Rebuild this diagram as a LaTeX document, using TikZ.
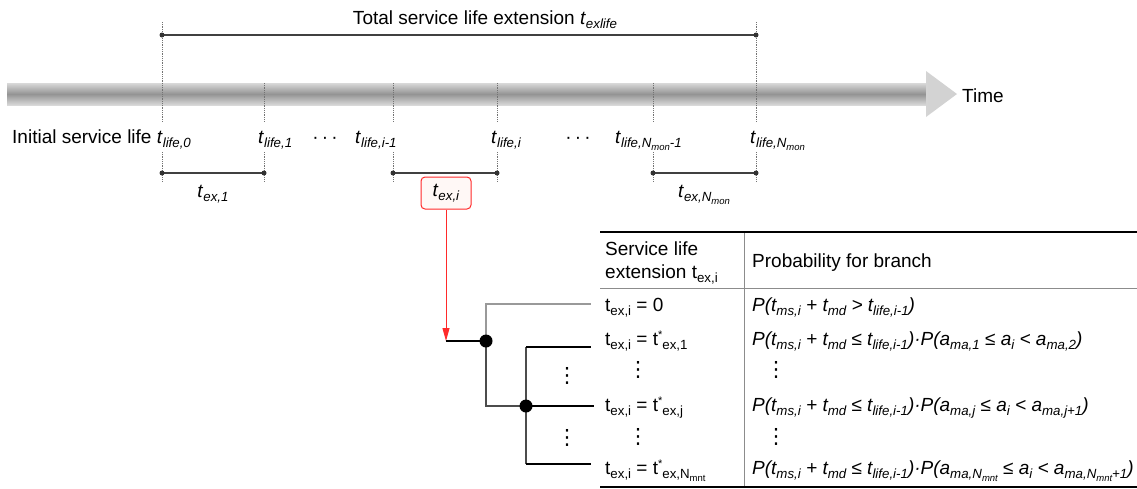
\documentclass[tikz,border=0pt]{standalone}
\usepackage{fontspec}
\setmainfont{Liberation Sans}
\newfontfamily\djv{DejaVu Sans}
\usetikzlibrary{arrows.meta}
\definecolor{redline}{HTML}{FF2A2A}
\definecolor{boxfill}{HTML}{FFF8F6}
\newcommand\fs{\fontsize{19}{23}\selectfont}
\newcommand\lo[1]{\raisebox{-4.5pt}{\fontsize{13.3}{14}\selectfont #1}}
\newcommand\llo[1]{\raisebox{-2.5pt}{\fontsize{9.5}{10}\selectfont #1}}
\newcommand\hi[1]{\raisebox{7pt}{\fontsize{11}{12}\selectfont #1}}
\newcommand\vdts{{\djv\fontsize{21}{21}\selectfont ⋮}}
\begin{document}
\begin{tikzpicture}[x=1pt,y=-1pt,font=\fs,
  lbl/.style={inner sep=0pt,anchor=base west},
  clbl/.style={inner sep=0pt,anchor=base},
  tickline/.style={densely dotted,black!55,line width=0.8pt},
  segline/.style={line width=1.3pt,black!75},
  enddot/.style={circle,fill=black!80,inner sep=0pt,minimum size=5pt},
  bnode/.style={circle,fill=black,inner sep=0pt,minimum size=13pt},
  bline/.style={line width=2.4pt,black},
  grayline/.style={line width=1.6pt,black!40},
  thinline/.style={line width=1.3pt,black!70},
  rule/.style={line width=2pt,black},
  softrule/.style={line width=1pt,black!45},
  vd/.style={inner sep=0pt}]
\useasboundingbox (0,0) rectangle (1137,488);
% time band
\shade[top color=black!15,bottom color=black!15,middle color=black!42] (7,83) rectangle (926,105);
\shade[left color=black!17,middle color=black!33,right color=black!18] (926,71) -- (957,94) -- (926,117) -- cycle;
\node[lbl] (time) at (962,102) {Time};
% title
\node[clbl] (title) at (485,24) {Total service life extension \textit{t}\lo{\textit{exlife}}};
% tick coordinates
\foreach \n/\x/\t in {a/162/22,b/264/83,c/393/83,d/497/83,e/653/83,f/756/22}{
  \coordinate (\n1) at (\x,\t);
  \coordinate (\n2) at (\x,122);
  \coordinate (\n3) at (\x,152);
  \coordinate (\n4) at (\x,181);
  \draw[tickline] (\n1) -- (\n2);
  \draw[tickline] (\n3) -- (\n4);
}
% total line
\coordinate (tl) at (162,35);
\coordinate (tr) at (756,35);
\draw[segline] (tl) -- (tr);
\node[enddot] (tld) at (tl) {};
\node[enddot] (trd) at (tr) {};
% labels
\node[lbl] (init) at (12,143) {Initial service life \textit{t}\lo{\textit{life,0}}};
\node[lbl] (l1) at (258,143) {\textit{t}\lo{\textit{life,1}}};
\node[clbl] (dots1) at (325,143) {·\,·\,·};
\node[lbl] (lim1) at (355,143) {\textit{t}\lo{\textit{life,i-1}}};
\node[lbl] (li) at (491,143) {\textit{t}\lo{\textit{life,i}}};
\node[clbl] (dots2) at (578,143) {·\,·\,·};
\node[lbl] (lNm1) at (615,143) {\textit{t}\lo{\textit{life,N}\llo{\textit{mon}}\textit{-1}}};
\node[lbl] (lN) at (750,143) {\textit{t}\lo{\textit{life,N}\llo{\textit{mon}}}};
% segments
\foreach \n/\xa/\xb in {s1/162/264,s2/393/497,s3/653/756}{
  \coordinate (\n a) at (\xa,173);
  \coordinate (\n b) at (\xb,173);
  \draw[segline] (\n a) -- (\n b);
  \node[enddot] (\n ad) at (\n a) {};
  \node[enddot] (\n bd) at (\n b) {};
}
\node[clbl] (tex1) at (213,197) {\textit{t}\lo{\textit{ex,1}}};
\node[clbl] (texN) at (704,197) {\textit{t}\lo{\textit{ex,N}\llo{\textit{mon}}}};
% red box and arrow
\node[draw=redline,fill=boxfill,rounded corners=4pt,line width=1pt,minimum width=50pt,minimum height=32pt,inner sep=0pt] (texi) at (446,193) {\raisebox{2pt}{\textit{t}\lo{\textit{ex,i}}}};
\coordinate (bstart) at (446,341);
\draw[redline,line width=1pt,-{Triangle[length=13pt,width=7pt]}] (texi.south) -- (bstart);
% branches
\coordinate (c1) at (486,341);
\coordinate (c2) at (526,406);
\coordinate (g1) at (486,304);
\coordinate (g2) at (591,304);
\coordinate (v1) at (526,347);
\coordinate (v3) at (526,464);
\coordinate (e1) at (591,347);
\coordinate (e2) at (594,406);
\coordinate (e3) at (591,464);
\draw[grayline] (c1) -- (g1) -- (g2);
\draw[thinline] (c1) |- (c2);
\draw[thinline] (v1) -- (v3);
\draw[bline] (bstart) -- (c1);
\draw[bline] (v1) -- (e1);
\draw[bline] (c2) -- (e2);
\draw[bline] (v3) -- (e3);
\node[bnode] (n1) at (c1) {};
\node[bnode] (n2) at (c2) {};
\node[vd] (bv1) at (567,376) {\vdts};
\node[vd] (bv2) at (567,438) {\vdts};
% table
\coordinate (tt1) at (600,232);
\coordinate (tt2) at (1137,232);
\coordinate (th1) at (600,288);
\coordinate (th2) at (1137,288);
\coordinate (tb1) at (600,487);
\coordinate (tb2) at (1137,487);
\coordinate (tc1) at (744,232);
\coordinate (tc2) at (744,487);
\draw[softrule] (th1) -- (th2);
\draw[softrule] (tc1) -- (tc2);
\draw[rule] (tt1) -- (tt2);
\draw[rule] (tb1) -- (tb2);
\node[lbl] (h1a) at (605,255) {Service life};
\node[lbl] (h1b) at (605,278) {extension t\lo{ex,i}};
\node[lbl] (h2) at (752,267) {Probability for branch};
\node[lbl] (r1l) at (605,311) {t\lo{ex,i} = 0};
\node[lbl] (r2l) at (605,345) {t\lo{ex,i} = t\hi{*}\lo{ex,1}};
\node[vd] (lv1) at (638,370) {\vdts};
\node[lbl] (r3l) at (605,411) {t\lo{ex,i} = t\hi{*}\lo{ex,j}};
\node[vd] (lv2) at (638,437) {\vdts};
\node[lbl] (r4l) at (605,474) {t\lo{ex,i} = t\hi{*}\lo{ex,N\llo{mnt}}};
\node[lbl] (r1r) at (752,311) {\itshape P(t\lo{ms,i} + t\lo{md} > t\lo{life,i-1})};
\node[lbl] (r2r) at (752,345) {\itshape P(t\lo{ms,i} + t\lo{md} ≤ t\lo{life,i-1})·P(a\lo{ma,1} ≤ a\lo{i} < a\lo{ma,2})};
\node[vd] (rv1) at (776,370) {\vdts};
\node[lbl] (r3r) at (752,411) {\itshape P(t\lo{ms,i} + t\lo{md} ≤ t\lo{life,i-1})·P(a\lo{ma,j} ≤ a\lo{i} < a\lo{ma,j+1})};
\node[vd] (rv2) at (776,437) {\vdts};
\node[lbl] (r4r) at (752,474) {\itshape P(t\lo{ms,i} + t\lo{md} ≤ t\lo{life,i-1})·P(a\lo{ma,N\llo{mnt}} ≤ a\lo{i} < a\lo{ma,N\llo{mnt}+1})};
\end{tikzpicture}
\end{document}
